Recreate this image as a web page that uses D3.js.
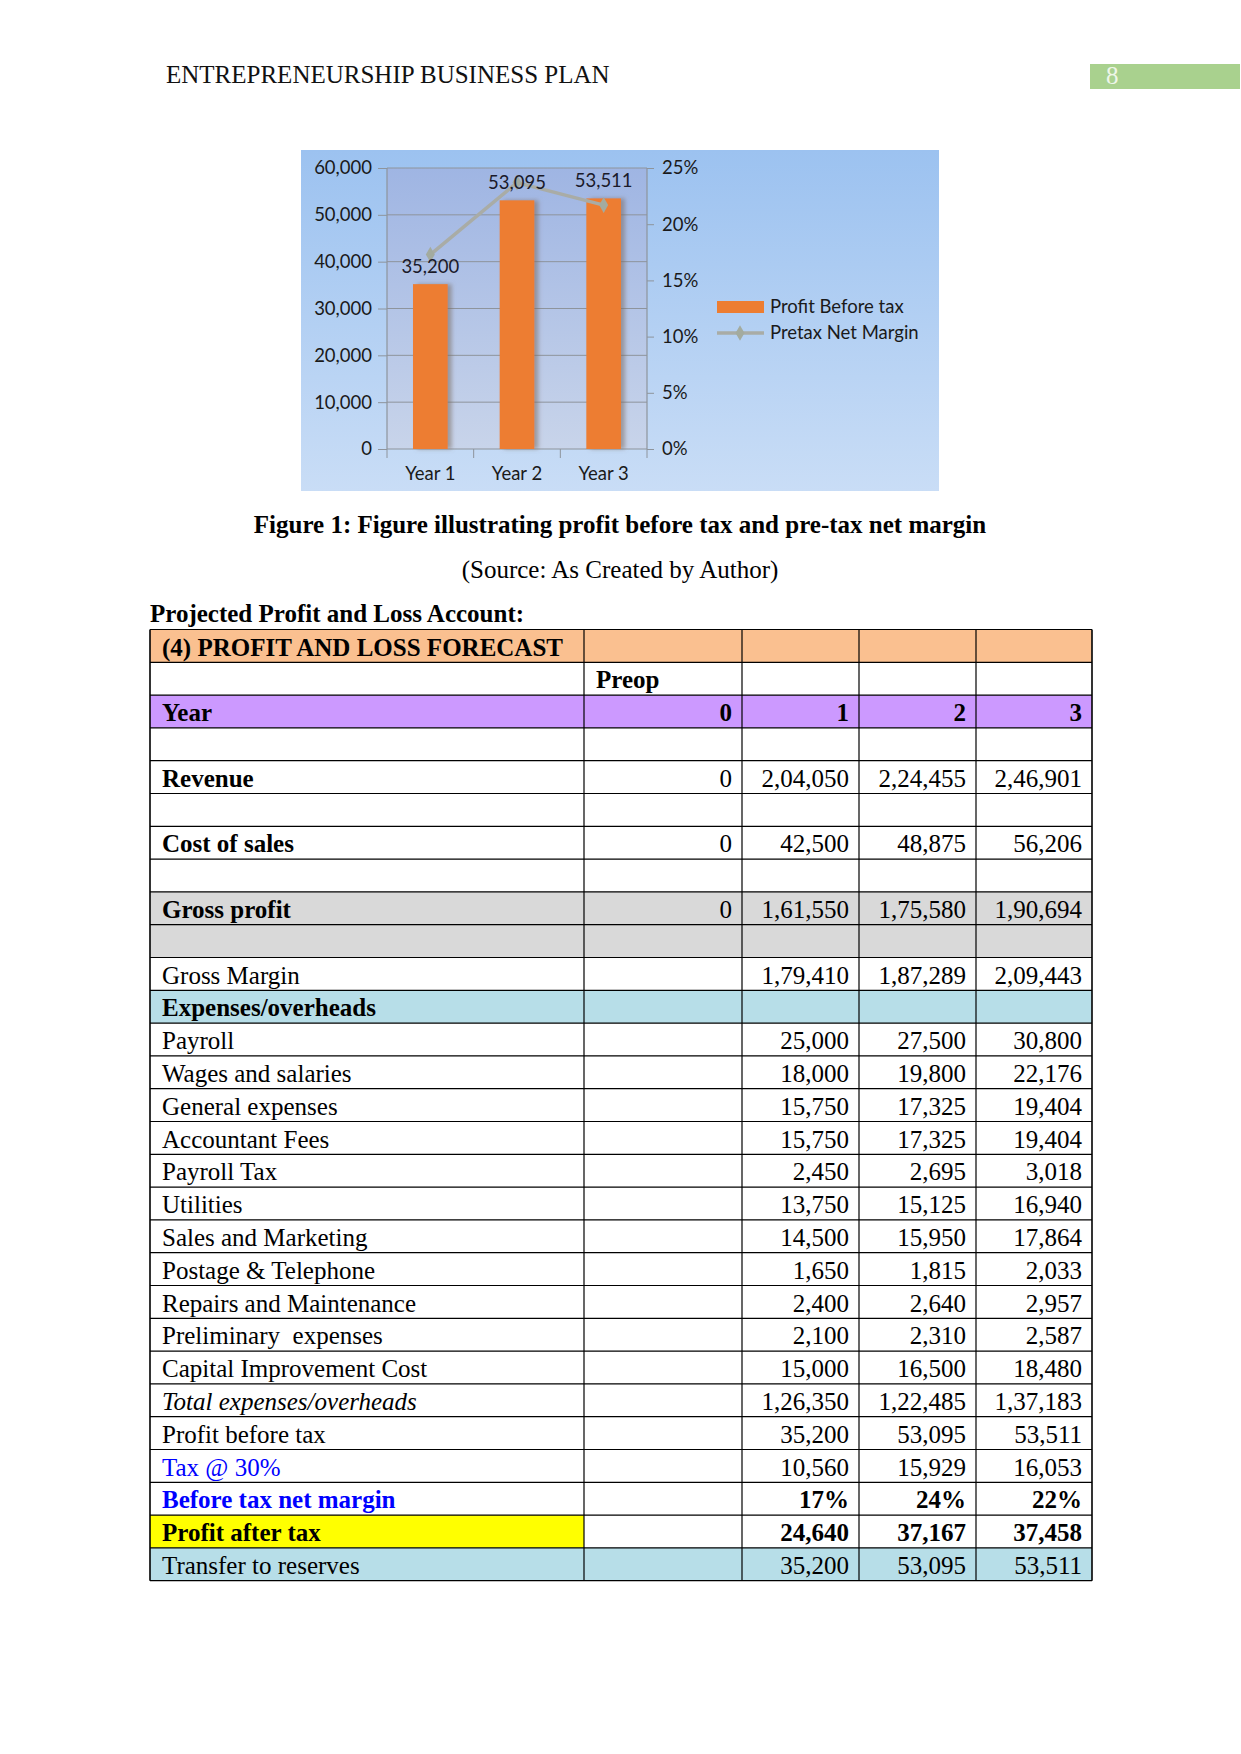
<!DOCTYPE html>
<html>
<head>
<meta charset="utf-8">
<script src="https://cdn.jsdelivr.net/npm/d3@7"></script>
<style>
  html, body { margin: 0; padding: 0; background: #ffffff; }
  svg { display: block; }
  text { white-space: pre; }
</style>
</head>
<body>
<script>
// ---------- chart data ----------
const years = ["Year 1", "Year 2", "Year 3"];
const profitBeforeTax = [35200, 53095, 53511];
const pretaxNetMargin = [0.173, 0.237, 0.217];
const leftTicks = [0, 10000, 20000, 30000, 40000, 50000, 60000];
const rightTicks = [0, 0.05, 0.10, 0.15, 0.20, 0.25];
const legendLabels = ["Profit Before tax", "Pretax Net Margin"];

// ---------- table data ----------
const rowLabels = ["(4) PROFIT AND LOSS FORECAST", "", "Year", "", "Revenue", "", "Cost of sales", "",
  "Gross profit", "", "Gross Margin", "Expenses/overheads", "Payroll", "Wages and salaries",
  "General expenses", "Accountant Fees", "Payroll Tax", "Utilities", "Sales and Marketing",
  "Postage & Telephone", "Repairs and Maintenance", "Preliminary  expenses", "Capital Improvement Cost",
  "Total expenses/overheads", "Profit before tax", "Tax @ 30%", "Before tax net margin",
  "Profit after tax", "Transfer to reserves"];
const preopValues = ["", "Preop", "0", "", "0", "", "0", "", "0", "", "", "", "", "", "", "", "", "", "", "", "", "", "", "", "", "", "", "", ""];
const year1Values = ["", "", "1", "", "2,04,050", "", "42,500", "", "1,61,550", "", "1,79,410", "",
  "25,000", "18,000", "15,750", "15,750", "2,450", "13,750", "14,500", "1,650", "2,400", "2,100",
  "15,000", "1,26,350", "35,200", "10,560", "17%", "24,640", "35,200"];
const year2Values = ["", "", "2", "", "2,24,455", "", "48,875", "", "1,75,580", "", "1,87,289", "",
  "27,500", "19,800", "17,325", "17,325", "2,695", "15,125", "15,950", "1,815", "2,640", "2,310",
  "16,500", "1,22,485", "53,095", "15,929", "24%", "37,167", "53,095"];
const year3Values = ["", "", "3", "", "2,46,901", "", "56,206", "", "1,90,694", "", "2,09,443", "",
  "30,800", "22,176", "19,404", "19,404", "3,018", "16,940", "17,864", "2,033", "2,957", "2,587",
  "18,480", "1,37,183", "53,511", "16,053", "22%", "37,458", "53,511"];

// row styling
const rowFills = rowLabels.map((d, i) => {
  if (i === 0) return "#fac090";
  if (i === 2) return "#cc99ff";
  if (i === 8 || i === 9) return "#d9d9d9";
  if (i === 11 || i === 28) return "#b7dee8";
  return "#ffffff";
});
const boldLabelRows = [0, 2, 4, 6, 8, 11, 26, 27];
const boldValueRows = [1, 2, 26, 27];
const blueLabelRows = [25, 26];
const italicLabelRows = [23];

const W = 1241, H = 1754;
const svg = d3.select("body").append("svg").attr("width", W).attr("height", H);
svg.append("rect").attr("width", W).attr("height", H).attr("fill", "#ffffff");

const serif = "'Liberation Serif', 'Times New Roman', serif";
const sans = "Lato, 'Open Sans', sans-serif";
const serifSize = 25;
const sansSize = 18.5;

// ---------- page header ----------
svg.append("text").attr("x", 166).attr("y", 83)
  .attr("font-family", serif).attr("font-size", serifSize).attr("fill", "#111")
  .text("ENTREPRENEURSHIP BUSINESS PLAN");
svg.append("rect").attr("x", 1090).attr("y", 64).attr("width", 150).attr("height", 25).attr("fill", "#a9d18e");
svg.append("text").attr("x", 1106).attr("y", 84)
  .attr("font-family", serif).attr("font-size", serifSize).attr("fill", "#eef6e8").text("8");

// ---------- chart ----------
const defs = svg.append("defs");
const g1 = defs.append("linearGradient").attr("id", "bgGrad").attr("x1", 0).attr("y1", 0).attr("x2", 0).attr("y2", 1);
g1.append("stop").attr("offset", "0%").attr("stop-color", "#9cc2f0");
g1.append("stop").attr("offset", "100%").attr("stop-color", "#c9ddf6");
const g2 = defs.append("linearGradient").attr("id", "plotGrad").attr("x1", 0).attr("y1", 0).attr("x2", 0).attr("y2", 1);
g2.append("stop").attr("offset", "0%").attr("stop-color", "#9fb5e3");
g2.append("stop").attr("offset", "100%").attr("stop-color", "#c8d4ea");
const f = defs.append("filter").attr("id", "barShadow").attr("x", "-20%").attr("y", "-5%").attr("width", "160%").attr("height", "110%");
f.append("feDropShadow").attr("dx", 4).attr("dy", 0).attr("stdDeviation", 2.2)
  .attr("flood-color", "#7a6a60").attr("flood-opacity", 0.55);

const chartBox = { x: 301, y: 150, w: 638, h: 341 };
svg.append("rect").attr("x", chartBox.x).attr("y", chartBox.y).attr("width", chartBox.w).attr("height", chartBox.h)
  .attr("fill", "url(#bgGrad)");

const plot = { left: 387, right: 647, top: 168, bottom: 449 };
svg.append("rect").attr("x", plot.left).attr("y", plot.top)
  .attr("width", plot.right - plot.left).attr("height", plot.bottom - plot.top)
  .attr("fill", "url(#plotGrad)");

const x = d3.scaleBand().domain(years).range([plot.left, plot.right]).paddingInner(0.6).paddingOuter(0.3);
const yL = d3.scaleLinear().domain([0, 60000]).range([plot.bottom, plot.top]);
const yR = d3.scaleLinear().domain([0, 0.25]).range([plot.bottom, plot.top]);

// gridlines
svg.append("g").selectAll("line").data(leftTicks.filter(d => d > 0)).join("line")
  .attr("x1", plot.left).attr("x2", plot.right)
  .attr("y1", d => yL(d)).attr("y2", d => yL(d))
  .attr("stroke", "#8e949c").attr("stroke-width", 1);

const axisColor = "#8e949c";
const leftAxis = svg.append("g").attr("transform", `translate(${plot.left},0)`)
  .call(d3.axisLeft(yL).tickValues(leftTicks).tickFormat(d3.format(",")).tickSize(9).tickPadding(6));
const rightAxis = svg.append("g").attr("transform", `translate(${plot.right},0)`)
  .call(d3.axisRight(yR).tickValues(rightTicks).tickFormat(d3.format(".0%")).tickSize(7).tickPadding(8));
const bottomAxis = svg.append("g").attr("transform", `translate(0,${plot.bottom})`)
  .call(d3.axisBottom(x).tickSize(0).tickPadding(18));
const bounds = [plot.left].concat(years.map(d => x(d) + x.bandwidth() / 2 + x.step() / 2));
bottomAxis.selectAll("line.bound").data(bounds).join("line").attr("class", "bound")
  .attr("x1", d => d).attr("x2", d => d).attr("y1", 0).attr("y2", 9)
  .attr("stroke", axisColor);

[leftAxis, rightAxis, bottomAxis].forEach(a => {
  a.select(".domain").attr("stroke", axisColor).attr("stroke-width", 1.2);
  a.selectAll(".tick line").attr("stroke", axisColor);
  a.selectAll("text").attr("font-family", sans).attr("font-size", sansSize).attr("fill", "#1a1a1a");
});
leftAxis.select(".domain").attr("d", `M0,${plot.bottom}V${plot.top}`);
rightAxis.select(".domain").attr("d", `M0,${plot.bottom}V${plot.top}`);
bottomAxis.select(".domain").attr("d", `M${plot.left},0H${plot.right}`);

// bars
svg.append("g").selectAll("rect").data(profitBeforeTax).join("rect")
  .attr("x", (d, i) => x(years[i])).attr("width", x.bandwidth())
  .attr("y", d => yL(d)).attr("height", d => plot.bottom - yL(d))
  .attr("fill", "#ed7d31").attr("filter", "url(#barShadow)");

// margin line
const cx = (i) => x(years[i]) + x.bandwidth() / 2;
const line = d3.line().x((d, i) => cx(i)).y(d => yR(d));
svg.append("path").datum(pretaxNetMargin).attr("d", line)
  .attr("fill", "none").attr("stroke", "#a9aca6").attr("stroke-width", 3.5);
const diamond = d3.symbol().type(d3.symbolDiamond).size(70);
svg.append("g").selectAll("path").data(pretaxNetMargin).join("path")
  .attr("d", diamond).attr("transform", (d, i) => `translate(${cx(i)},${yR(d)})`)
  .attr("fill", "#a3ab9f");

// data labels
svg.append("g").selectAll("text").data(profitBeforeTax).join("text")
  .attr("x", (d, i) => cx(i)).attr("y", d => yL(d) - 11)
  .attr("text-anchor", "middle").attr("font-family", sans).attr("font-size", sansSize).attr("fill", "#1a1a2a")
  .text(d => d3.format(",")(d));

// legend
const lg = svg.append("g");
lg.append("rect").attr("x", 717).attr("y", 301).attr("width", 47).attr("height", 12).attr("fill", "#ed7d31");
lg.append("line").attr("x1", 717).attr("x2", 764).attr("y1", 333).attr("y2", 333)
  .attr("stroke", "#a9aca6").attr("stroke-width", 3.5);
lg.append("path").attr("d", diamond).attr("transform", "translate(740,333)").attr("fill", "#a3ab9f");
lg.selectAll("text").data(legendLabels).join("text")
  .attr("x", 770).attr("y", (d, i) => 313 + i * 26)
  .attr("font-family", sans).attr("font-size", sansSize).attr("fill", "#1a1a1a")
  .text(d => d);

// ---------- captions ----------
svg.append("text").attr("x", 620).attr("y", 533).attr("text-anchor", "middle")
  .attr("font-family", serif).attr("font-size", serifSize).attr("font-weight", "bold").attr("fill", "#000")
  .text("Figure 1: Figure illustrating profit before tax and pre-tax net margin");
svg.append("text").attr("x", 620).attr("y", 578).attr("text-anchor", "middle")
  .attr("font-family", serif).attr("font-size", serifSize).attr("fill", "#000")
  .text("(Source: As Created by Author)");
svg.append("text").attr("x", 150).attr("y", 622)
  .attr("font-family", serif).attr("font-size", serifSize).attr("font-weight", "bold").attr("fill", "#000")
  .text("Projected Profit and Loss Account:");

// ---------- table ----------
const colEdges = [150, 584, 742, 859, 976, 1092];
const tableTop = 629.5;
const rowH = 32.8;
const rows = rowLabels.map((lab, i) => ({
  i, cells: [lab, preopValues[i], year1Values[i], year2Values[i], year3Values[i]]
}));
const tg = svg.append("g");
const rowG = tg.selectAll("g.row").data(rows).join("g").attr("class", "row")
  .attr("transform", d => `translate(0,${tableTop + d.i * rowH})`);

rowG.each(function (r) {
  const g = d3.select(this);
  for (let c = 0; c < 5; c++) {
    let fill = rowFills[r.i];
    if (r.i === 27) fill = c === 0 ? "#ffff00" : "#ffffff";
    g.append("rect").attr("x", colEdges[c]).attr("y", 0)
      .attr("width", colEdges[c + 1] - colEdges[c]).attr("height", rowH).attr("fill", fill);
  }
  r.cells.forEach((t, c) => {
    if (!t) return;
    const isLabel = c === 0;
    const leftAlign = isLabel || (r.i === 1 && c === 1);
    const txt = g.append("text")
      .attr("x", leftAlign ? colEdges[c] + 12 : colEdges[c + 1] - 10)
      .attr("y", 26)
      .attr("text-anchor", leftAlign ? "start" : "end")
      .attr("font-family", serif).attr("font-size", serifSize)
      .attr("fill", isLabel && blueLabelRows.includes(r.i) ? "#0000ff" : "#000")
      .text(t);
    if ((isLabel && boldLabelRows.includes(r.i)) || (!isLabel && boldValueRows.includes(r.i))) txt.attr("font-weight", "bold");
    if (isLabel && italicLabelRows.includes(r.i)) txt.attr("font-style", "italic");
  });
});

const tableBottom = tableTop + rowLabels.length * rowH;
tg.append("g").selectAll("line").data(d3.range(rowLabels.length + 1)).join("line")
  .attr("x1", colEdges[0]).attr("x2", colEdges[5])
  .attr("y1", d => tableTop + d * rowH).attr("y2", d => tableTop + d * rowH)
  .attr("stroke", "#000").attr("stroke-width", 1.2);
tg.append("g").selectAll("line").data(colEdges).join("line")
  .attr("x1", d => d).attr("x2", d => d)
  .attr("y1", tableTop).attr("y2", tableBottom)
  .attr("stroke", "#000").attr("stroke-width", (d, i) => (i === 0 || i === 5) ? 1.6 : 1.2);
</script>
</body>
</html>
